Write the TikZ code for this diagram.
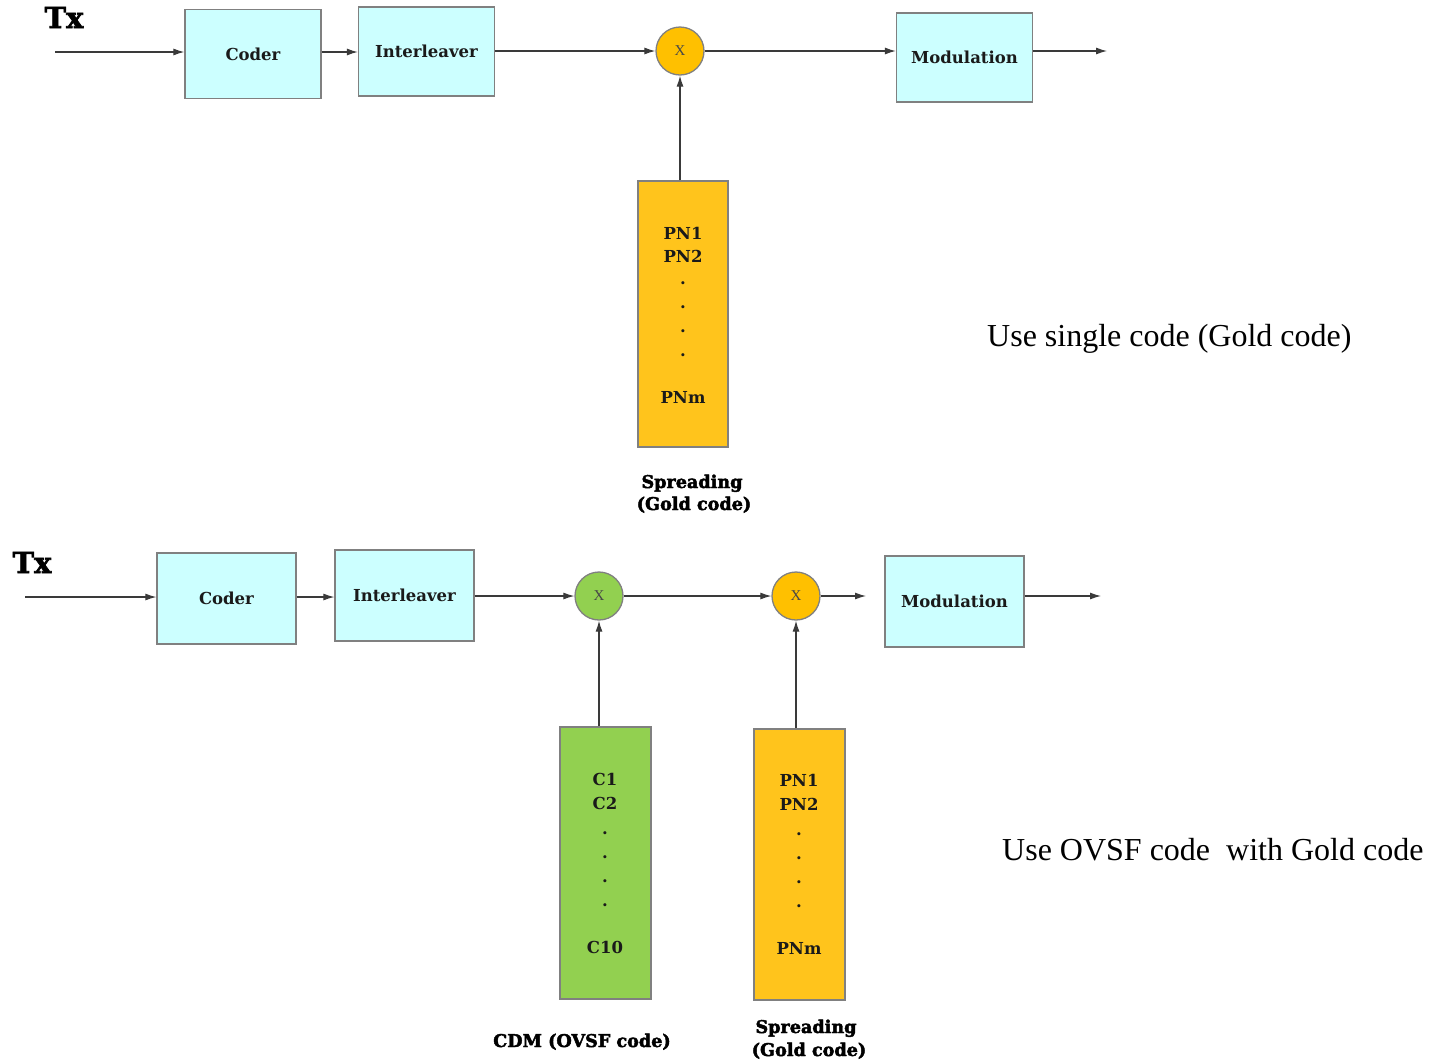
\documentclass[tikz,border=0pt]{standalone}
\usepackage{fontspec}
\setmainfont{DejaVu Serif}
\newfontfamily\tnr{Liberation Serif}
\newfontface\hvy[FakeBold=2.5]{DejaVu Serif Bold}
\usetikzlibrary{arrows.meta}
\definecolor{cyanbox}{HTML}{CCFFFF}
\definecolor{goldc}{HTML}{FFC000}
\definecolor{goldbox}{HTML}{FFC41C}
\definecolor{grn}{HTML}{92D050}
\definecolor{edgec}{HTML}{808080}
\definecolor{wire}{HTML}{3A3A3A}
\definecolor{ink}{HTML}{1A1A1A}
\begin{document}
\begin{tikzpicture}[x=1pt,y=-1pt,
  blk/.style={draw=edgec, line width=1.3pt, fill=cyanbox, minimum width=136pt, minimum height=89pt, inner sep=0pt, text=ink, font=\bfseries\fontsize{16.5}{18}\selectfont},
  mult/.style={circle, draw=edgec, line width=1.3pt, minimum size=48pt, inner sep=0pt, text=ink!80, font=\tnr\fontsize{15}{16}\selectfont},
  codebox/.style={draw=edgec, line width=1.3pt, minimum width=90pt, inner sep=0pt},
  codetxt/.style={anchor=base, inner sep=0pt, text=ink, font=\bfseries\fontsize{16.5}{18}\selectfont},
  heavy/.style={anchor=base, inner sep=0pt, text=black, font=\hvy\fontsize{17.6}{20}\selectfont},
  txlbl/.style={anchor=base, inner sep=0pt, text=black, font=\hvy\fontsize{29}{32}\selectfont},
  note/.style={anchor=base west, inner sep=0pt, text=black, font=\tnr\fontsize{32}{34}\selectfont},
  arr/.style={draw=wire, line width=1.1pt, -{Latex[length=11pt,width=7pt]}},
  ln/.style={draw=wire, line width=1.1pt}
]
\useasboundingbox (0,0) rectangle (1434,1061);

% ---------------- top chain ----------------
\node[txlbl] (tx1) at (64,28) {Tx};
\coordinate (in1) at (55,52);
\node[blk] (coder1) at (253,54) {Coder};
\node[blk] (inter1) at (426.5,51.5) {Interleaver};
\node[mult, fill=goldc] (m1) at (680,51) {X};
\node[blk] (mod1) at (964.5,57.5) {Modulation};
\coordinate (out1) at (1107,51);
\node[codebox, fill=goldbox, minimum height=266pt] (pn1) at (683,314) {};

\draw[arr] (in1) -- (in1 -| coder1.west);
\draw[arr] (coder1.east |- 0,52) -- (inter1.west |- 0,52);
\draw[arr] (inter1.east |- m1) -- (m1.west);
\draw[arr] (m1.east) -- (mod1.west |- m1);
\draw[arr] (mod1.east |- m1) -- (out1);
\draw[arr] (pn1.north -| m1) -- (m1.south);

\node[codetxt] (pa1) at (683,239) {PN1};
\node[codetxt] (pa2) at (683,262) {PN2};
\foreach \i/\yy in {1/284,2/308,3/332,4/356}{
  \node[codetxt] (pad\i) at (683,\yy) {.};
}
\node[codetxt] (pam) at (683,403) {PNm};

\node[heavy] (sp1a) at (692,488) {Spreading};
\node[heavy] (sp1b) at (694,510) {(Gold code)};
\node[note] (note1) at (987,346) {Use single code (Gold code)};

% ---------------- bottom chain ----------------
\node[txlbl] (tx2) at (32,573) {Tx};
\coordinate (in2) at (25,597);
\node[blk, minimum width=139pt, minimum height=91pt] (coder2) at (226.5,598.5) {Coder};
\node[blk, minimum width=139pt, minimum height=91pt] (inter2) at (404.5,595.5) {Interleaver};
\node[mult, fill=grn] (m2) at (599,596) {X};
\node[mult, fill=goldc] (m3) at (796,596) {X};
\coordinate (mid3) at (866,596);
\node[blk, minimum width=139pt, minimum height=91pt] (mod2) at (954.5,601.5) {Modulation};
\coordinate (out2) at (1101,596);
\node[codebox, fill=grn, minimum width=91pt, minimum height=272pt] (cbox) at (605.5,863) {};
\node[codebox, fill=goldbox, minimum width=91pt, minimum height=271pt] (pn2) at (799.5,864.5) {};

\draw[arr] (in2) -- (in2 -| coder2.west);
\draw[arr] (coder2.east |- 0,597) -- (inter2.west |- 0,597);
\draw[arr] (inter2.east |- m2) -- (m2.west);
\draw[arr] (m2.east) -- (m3.west);
\draw[arr] (m3.east) -- (mid3);
\draw[arr] (mod2.east |- m3) -- (out2);
\draw[arr] (cbox.north -| m2) -- (m2.south);
\draw[arr] (pn2.north -| m3) -- (m3.south);

\node[codetxt] (ca1) at (605,785) {C1};
\node[codetxt] (ca2) at (605,809) {C2};
\foreach \i/\yy in {1/834,2/858,3/882,4/906}{
  \node[codetxt] (cad\i) at (605,\yy) {.};
}
\node[codetxt] (cam) at (605,953) {C10};

\node[codetxt] (pb1) at (799,786) {PN1};
\node[codetxt] (pb2) at (799,810) {PN2};
\foreach \i/\yy in {1/835,2/859,3/883,4/907}{
  \node[codetxt] (pbd\i) at (799,\yy) {.};
}
\node[codetxt] (pbm) at (799,954) {PNm};

\node[heavy] (cdm) at (582,1047) {CDM (OVSF code)};
\node[heavy] (sp2a) at (806,1033) {Spreading};
\node[heavy] (sp2b) at (809,1056) {(Gold code)};
\node[note] (note2) at (1002,860) {Use OVSF code\ \ with Gold code};
\end{tikzpicture}
\end{document}
